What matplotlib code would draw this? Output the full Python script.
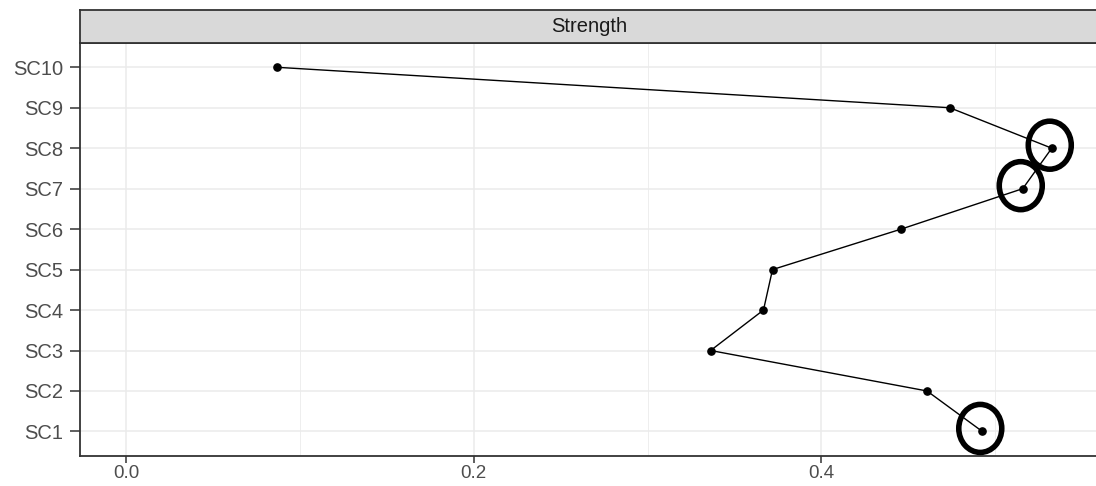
import matplotlib
matplotlib.use("Agg")
import matplotlib.pyplot as plt
from matplotlib.patches import Ellipse

# ---- data ----
categories = ["SC1", "SC2", "SC3", "SC4", "SC5", "SC6", "SC7", "SC8", "SC9", "SC10"]
strength = [0.4926, 0.4608, 0.3363, 0.3667, 0.3719, 0.4459, 0.5159, 0.5326, 0.4739, 0.0866]
highlighted = ["SC1", "SC7", "SC8"]
x_ticks = [0.0, 0.2, 0.4]
x_minor = [0.1, 0.3, 0.5]
panel_title = "Strength"

plt.rcParams['font.family'] = ['Liberation Sans', 'DejaVu Sans']

W, H = 1096, 486
fig = plt.figure(figsize=(W / 100, H / 100), dpi=100)

# panel geometry in pixels
left_px, right_px = 80, 1098
top_px, bottom_px = 43, 455.7
strip_top = 10

ax = fig.add_axes([left_px / W, 1 - bottom_px / H,
                   (right_px - left_px) / W, (bottom_px - top_px) / H])
ypos = list(range(1, len(categories) + 1))

xlim = (-0.0266, 0.5592)
ax.set_xlim(*xlim)
ax.set_ylim(0.4, len(categories) + 0.6)

grid_col = "#EBEBEB"
for v in x_minor:
    ax.axvline(v, color=grid_col, lw=0.6, zorder=0)
for v in x_ticks:
    ax.axvline(v, color=grid_col, lw=1.1, zorder=0)
for y in ypos:
    ax.axhline(y, color=grid_col, lw=1.1, zorder=0)

ax.plot(strength, ypos, color="black", lw=1.0, zorder=3)
ax.plot(strength, ypos, "o", color="black", ms=5.2, zorder=4)

# highlight ellipses (size in pixels converted to data units)
px_x = (xlim[1] - xlim[0]) / (right_px - left_px)
px_y = (len(categories) + 0.2) / (bottom_px - top_px)
for name in highlighted:
    i = categories.index(name)
    cx = strength[i] - 2 * px_x
    cy = ypos[i] + 3 * px_y
    e = Ellipse((cx, cy), width=43 * px_x, height=48 * px_y,
                fill=False, edgecolor="black", lw=4.0, zorder=5, clip_on=False)
    ax.add_patch(e)

ax.set_xticks(x_ticks)
ax.set_xticklabels([f"{v:.1f}" for v in x_ticks])
ax.set_yticks(ypos)
ax.set_yticklabels(categories)
ax.tick_params(axis="both", colors="#333333", labelcolor="#4D4D4D", width=1.1)
ax.tick_params(axis="x", length=5, pad=2, labelsize=13.5)
ax.tick_params(axis="y", length=7, pad=5, labelsize=14.5)
for side in ["left", "bottom", "top", "right"]:
    ax.spines[side].set_color("#333333")
    ax.spines[side].set_linewidth(1.3)

# strip
sax = fig.add_axes([left_px / W, 1 - top_px / H,
                    (right_px - left_px) / W, (top_px - strip_top) / H])
sax.set_facecolor("#D9D9D9")
sax.set_xticks([])
sax.set_yticks([])
for side in sax.spines:
    sax.spines[side].set_color("#333333")
    sax.spines[side].set_linewidth(1.3)
sax.text(0.5, 0.5, panel_title, transform=sax.transAxes, ha="center", va="center",
         fontsize=14.5, color="#1A1A1A")

fig.savefig("out.png", dpi=100, facecolor="white")
